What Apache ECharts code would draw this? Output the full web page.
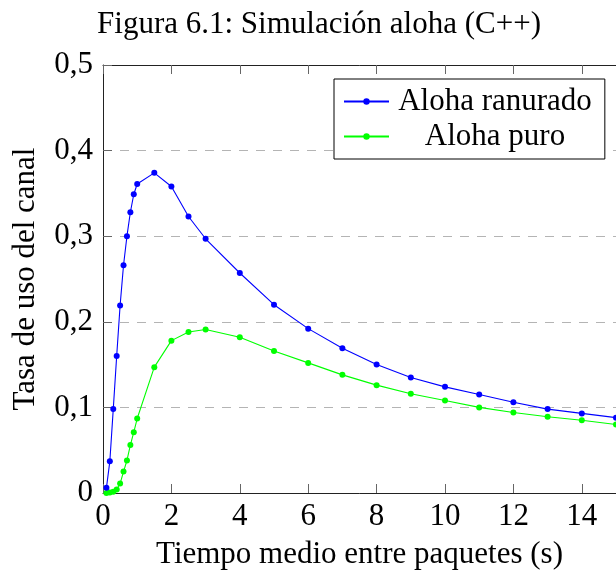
<!DOCTYPE html>
<html lang="es">
<head>
    <meta charset="UTF-8">
    <title>Simulación aloha</title>
    <script src="https://cdn.jsdelivr.net/npm/echarts@6/dist/echarts.min.js"></script>
</head>
<body style="margin:0">
<div id="main" style="width: 616px;height:575px;"></div>
<script type="text/javascript">
    // tiempo medio entre paquetes (s)
    var tiempos = [0.1, 0.2, 0.3, 0.4, 0.5, 0.6, 0.7, 0.8, 0.9, 1.0, 1.5, 2, 2.5, 3,
        4, 5, 6, 7, 8, 9, 10, 11, 12, 13, 14, 15];
    // tasa de uso del canal
    var ranurado = [0.006, 0.037, 0.098, 0.160, 0.219, 0.266, 0.300, 0.328, 0.349, 0.361,
        0.374, 0.358, 0.323, 0.297, 0.257, 0.220, 0.192, 0.169, 0.150, 0.135,
        0.124, 0.115, 0.106, 0.098, 0.093, 0.088];
    var puro = [0.000, 0.0005, 0.0015, 0.004, 0.011, 0.025, 0.038, 0.056, 0.071, 0.087,
        0.147, 0.178, 0.188, 0.191, 0.182, 0.166, 0.152, 0.138, 0.126, 0.116,
        0.108, 0.100, 0.094, 0.089, 0.085, 0.080];
    var nombres = ['Aloha ranurado', 'Aloha puro'];

    function pares(xs, ys) {
        var out = [];
        for (var i = 0; i < xs.length; i++) out.push([xs[i], ys[i]]);
        return out;
    }

    var fuente = "'Liberation Serif', 'DejaVu Serif', serif";
    var tam = 31;
    var myChart = echarts.init(document.getElementById('main'));

    var option = {
        animation: false,
        textStyle: {fontFamily: fuente, color: '#000'},
        title: {
            text: 'Figura 6.1: Simulación aloha (C++)',
            left: 314, top: 4, textAlign: 'center',
            textStyle: {fontFamily: fuente, fontSize: tam, fontWeight: 'normal', color: '#000'}
        },
        grid: {left: 103, right: -2, top: 65, bottom: 79},
        legend: {
            data: nombres,
            orient: 'vertical',
            left: 334, top: 79,
            backgroundColor: '#fff',
            borderColor: '#000',
            borderWidth: 1,
            borderRadius: 0,
            padding: [7, 13, 7, 9],
            itemWidth: 45,
            itemHeight: 8,
            itemGap: 4,
            formatter: '{c|{name}}',
            textStyle: {
                fontFamily: fuente, fontSize: tam, color: '#000',
                rich: {c: {fontFamily: fuente, fontSize: tam, color: '#000', width: 198, align: 'center', padding: [0, 0, 0, 2]}}
            }
        },
        xAxis: [{
            type: 'value', min: 0, max: 15, interval: 2,
            name: 'Tiempo medio entre paquetes (s)',
            nameLocation: 'middle', nameGap: 46,
            nameTextStyle: {fontFamily: fuente, fontSize: tam, color: '#000'},
            axisLine: {lineStyle: {color: '#222', width: 1}},
            axisTick: {inside: true, length: 9, lineStyle: {color: '#666'}},
            axisLabel: {fontFamily: fuente, fontSize: tam, color: '#000', margin: 8, showMaxLabel: false},
            splitLine: {show: false}
        }, {
            type: 'value', min: 0, max: 15, interval: 2, position: 'top',
            axisLine: {lineStyle: {color: '#222', width: 1}},
            axisTick: {inside: true, length: 9, lineStyle: {color: '#666'}},
            axisLabel: {show: false},
            splitLine: {show: false}
        }],
        yAxis: {
            type: 'value', min: 0, max: 0.5, interval: 0.1,
            name: 'Tasa de uso del canal',
            nameLocation: 'middle', nameGap: 62,
            nameTextStyle: {fontFamily: fuente, fontSize: tam, color: '#000'},
            axisLine: {show: true, lineStyle: {color: '#222', width: 1}},
            axisTick: {show: true, inside: true, length: 9, lineStyle: {color: '#666'}},
            axisLabel: {
                fontFamily: fuente, fontSize: tam, color: '#000', margin: 10,
                formatter: function (v) {
                    return v === 0 ? '0' : v.toFixed(1).replace('.', ',');
                }
            },
            splitLine: {show: true, lineStyle: {color: '#b4b4b4', type: [9, 8], width: 1}}
        },
        series: [{
            name: nombres[0],
            type: 'line',
            data: pares(tiempos, ranurado),
            symbol: 'circle', symbolSize: 6,
            color: '#0000ff',
            lineStyle: {width: 1.1},
            z: 3
        }, {
            name: nombres[1],
            type: 'line',
            data: pares(tiempos, puro),
            symbol: 'circle', symbolSize: 6,
            color: '#00ff00',
            lineStyle: {width: 1.1},
            z: 2
        }]
    };

    myChart.setOption(option);
</script>
</body>
</html>
